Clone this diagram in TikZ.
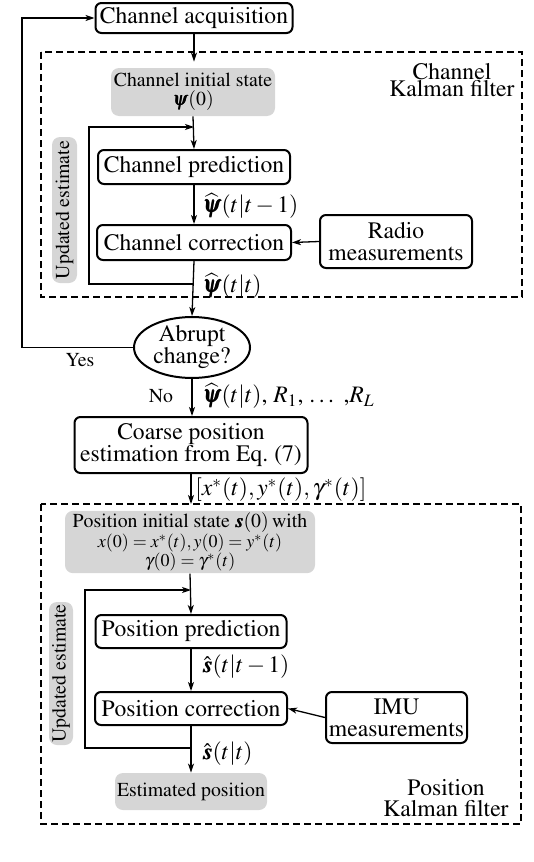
\documentclass[tikz,border=0pt]{standalone}
\usepackage[T1]{fontenc}
\usepackage{mathptmx}
\usepackage{amsmath,bm}
\usetikzlibrary{arrows.meta,shapes.geometric,calc}
\newcommand{\bigf}{\fontsize{11.8}{11}\selectfont}
\newcommand{\smallf}{\fontsize{9.9}{9.5}\selectfont}
\newcommand{\tinyf}{\fontsize{9}{8.6}\selectfont}
\begin{document}
\begin{tikzpicture}[x=0.5pt,y=-0.5pt,
  box/.style={draw, line width=1pt, rounded corners=3pt, font=\bigf, inner sep=1pt, align=center},
  graybox/.style={fill=black!16, rounded corners=4pt, font=\smallf, inner sep=1pt, align=center},
  arr/.style={line width=0.65pt, -{Stealth[length=4.5pt,width=3pt,inset=1.2pt]}},
  dashbox/.style={line width=1pt, dash pattern=on 3.5pt off 2pt},
  lab/.style={font=\bigf, inner sep=0pt, anchor=west},
  kf/.style={inner sep=0pt, align=center}]
\useasboundingbox (0,0) rectangle (534,862);

% dashed filter boxes
\draw[dashbox] (41,52) rectangle (522,297);
\draw[dashbox] (41,504) rectangle (521,824);
\node[kf, font={\fontsize{11.8}{8.8}\selectfont}] (ckf) at (452,80) {Channel\\Kalman filter};
\node[kf, font={\fontsize{11.8}{10.5}\selectfont}] (pkf) at (446,798) {Position\\Kalman filter};

% channel part
\node[box, minimum width=98.5pt, minimum height=15pt] (acq) at (194,18) {Channel acquisition};
\node[graybox, minimum width=82pt, minimum height=24pt] (init1) at (193,92) {Channel initial state\\$\bm{\psi}(0)$};
\node[box, minimum width=96pt, minimum height=17pt] (pred1) at (194,167) {Channel prediction};
\node[box, minimum width=97pt, minimum height=17.5pt] (corr1) at (194,242.5) {Channel correction};
\node[box, minimum width=76pt, minimum height=26.5pt] (radio) at (396,241.5) {Radio\\measurements};
\node[graybox, rotate=90, minimum width=73pt, minimum height=12.5pt] (upd1) at (64.5,210) {Updated estimate};

\node[draw, ellipse, line width=1pt, minimum width=58pt, minimum height=29.5pt, inner sep=0pt, font=\bigf, align=center] (ell) at (192,347.5) {Abrupt\\change?};

\node[box, minimum width=116.5pt, minimum height=28pt] (coarse) at (191,445) {Coarse position\\estimation from Eq.~(7)};

% position part
\node[graybox, minimum width=125pt, minimum height=31pt] (init2) at (190,542)
  {Position initial state $\bm{s}(0)$\,with\\[0.5pt]{\tinyf $x(0)=x^*(t), y(0)=y^*(t)$}\\[0pt]{\tinyf $\gamma(0)=\gamma^*(t)$}};
\node[box, minimum width=95.5pt, minimum height=16.5pt] (pred2) at (191,631.5) {Position prediction};
\node[box, minimum width=96pt, minimum height=16.5pt] (corr2) at (191,708.5) {Position correction};
\node[box, minimum width=70.5pt, minimum height=25.5pt] (imu) at (396.5,717.5) {IMU\\measurements};
\node[graybox, rotate=90, minimum width=71.5pt, minimum height=12pt] (upd2) at (61,673.5) {Updated estimate};
\node[graybox, minimum width=76pt, minimum height=18.5pt] (est) at (191,791.5) {Estimated position};

% coordinates
\coordinate (l1t) at (194,127);
\coordinate (l1b) at (194,284);
\coordinate (l2t) at (191,590);
\coordinate (l2b) at (191,748);
\coordinate (pk) at (191,504);

% connectors channel
\draw[arr, shorten >=3pt] (acq.south) -- (acq.south |- init1.north);
\draw[arr] (init1.south) -- (pred1.north);
\draw[arr] (pred1.south) -- (corr1.north);
\draw[arr] (radio.west) -- (corr1.east);
\draw[arr] (corr1.south) -- (ell.north);
\draw[arr] (l1b) -- (89,284) -- (89,127) -- (l1t);
\node[lab] (lb1) at (202,206) {$\widehat{\bm{\psi}}(t|t-1)$};
\node[lab] (lb2) at (202,286) {$\widehat{\bm{\psi}}(t|t)$};

% abrupt change
\draw[arr] (ell.west) -- (22,347.5) |- (acq.west);
\node[font=\smallf, inner sep=0pt] (yes) at (80,360) {Yes};
\draw[arr] (ell.south) -- (ell.south |- coarse.north);
\node[font=\smallf, inner sep=0pt] (no) at (161,396) {No};
\node[lab] (lb3) at (202,396) {$\widehat{\bm{\psi}}(t|t)$, $R_1$, \dots\ ,$R_L$};
\draw[arr] (coarse.south) -- (pk);
\node[lab] (lb4) at (195,490) {$[x^*(t), y^*(t), \gamma^*(t)]$};

% connectors position
\draw[arr] (init2.south) -- (pred2.north);
\draw[arr] (pred2.south) -- (corr2.north);
\draw[arr] (imu.west) -- (corr2.east);
\draw[arr] (corr2.south) -- (est.north);
\draw[arr] (l2b) -- (85,748) -- (85,590) -- (l2t);
\node[lab] (lb5) at (202,667) {$\hat{\bm{s}}(t|t-1)$};
\node[lab] (lb6) at (202,754) {$\hat{\bm{s}}(t|t)$};
\end{tikzpicture}
\end{document}
